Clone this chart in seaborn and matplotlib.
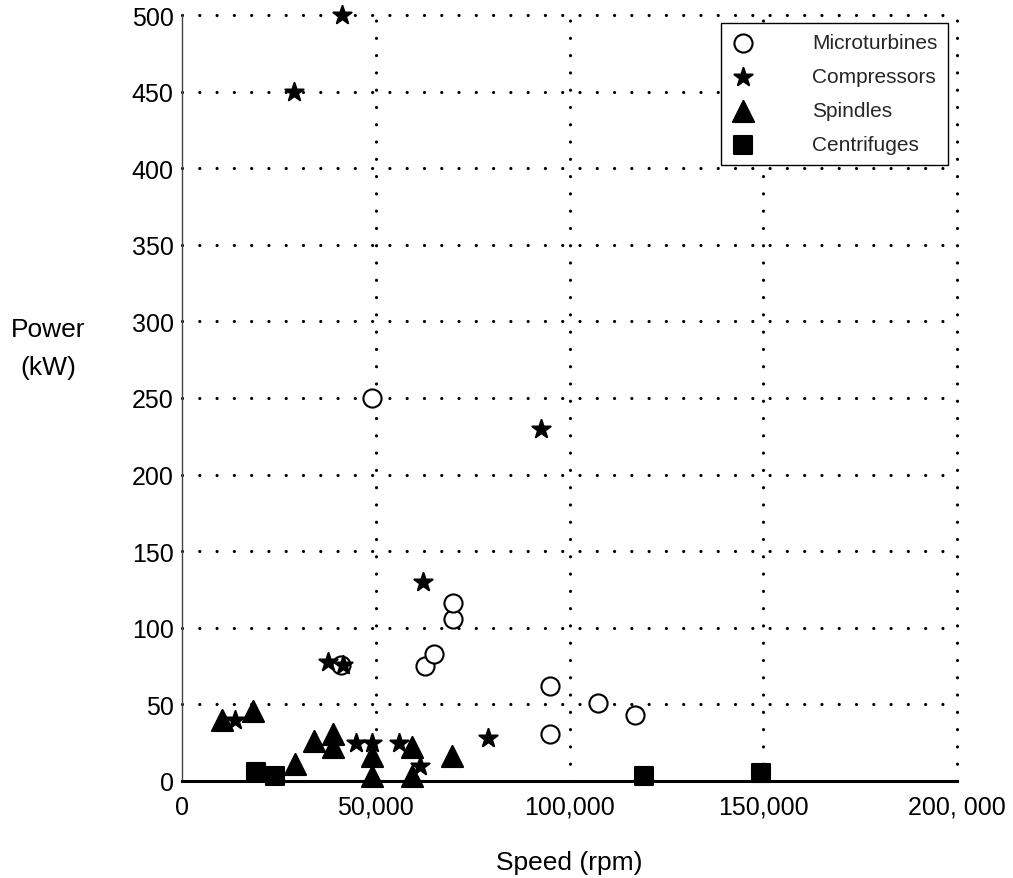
import matplotlib
matplotlib.use("Agg")
import matplotlib.pyplot as plt
import seaborn as sns
from matplotlib.ticker import FixedLocator

# Machine survey: shaft speed (rpm) vs rated power (kW)
micro_speed = [41000, 49000, 62700, 65000, 70000, 70000, 95000, 95000, 107300, 117000]
micro_power = [76, 250, 75, 83, 106, 116, 62, 31, 51, 43]

comp_speed = [13700, 28900, 37700, 41300, 41600, 44900, 49000, 56000, 61400, 62200, 79000, 92600]
comp_power = [40, 450, 78, 500, 76, 25, 25, 25, 10, 130, 28, 230]

spin_speed = [10300, 18300, 29200, 34000, 39000, 39000, 49000, 49000, 59400, 59400, 69700]
spin_power = [40, 46, 11, 26, 31, 22, 16, 3, 22, 3, 16]

cent_speed = [19100, 24000, 119300, 149400]
cent_power = [6, 3, 3, 5]

x_ticks = [0, 50000, 100000, 150000, 200000]
x_labels = ["0", "50,000", "100,000", "150,000", "200, 000"]
y_ticks = [0, 50, 100, 150, 200, 250, 300, 350, 400, 450, 500]

sns.set_theme(style="white")
plt.rcParams["font.family"] = ["Liberation Sans", "DejaVu Sans"]

fig = plt.figure(figsize=(10.13, 8.79), dpi=100)
ax = fig.add_axes([182 / 1013, 1 - 782 / 879, 775 / 1013, 766 / 879])

common = dict(ax=ax, clip_on=False, zorder=5, linewidth=1.5)
sns.scatterplot(x=micro_speed, y=micro_power, marker="o", s=170,
                facecolor="white", edgecolor="black", label="Microturbines", **common)
sns.scatterplot(x=comp_speed, y=comp_power, marker="*", s=190,
                color="black", edgecolor="black", label="Compressors", **common)
sns.scatterplot(x=spin_speed, y=spin_power, marker="^", s=230,
                color="black", edgecolor="black", label="Spindles", **common)
sns.scatterplot(x=cent_speed, y=cent_power, marker="s", s=150,
                color="black", edgecolor="black", label="Centrifuges", **common)

ax.set_xlim(0, 200000)
ax.set_ylim(0, 500)
ax.xaxis.set_major_locator(FixedLocator(x_ticks))
ax.set_xticklabels(x_labels)
ax.yaxis.set_major_locator(FixedLocator(y_ticks))
ax.set_yticklabels([str(v) for v in y_ticks])

# dotted grid with round dots
ax.grid(True, color="black", linewidth=2.3, linestyle=(0, (0.01, 5.4)),
        dash_capstyle="round")
ax.set_axisbelow(True)
for line in ax.get_xgridlines() + ax.get_ygridlines():
    line.set_clip_on(False)
    line.set_dash_capstyle("round")
ax.xaxis.get_major_ticks()[0].gridline.set_visible(False)
ax.yaxis.get_major_ticks()[0].gridline.set_visible(False)

for side in ("top", "right"):
    ax.spines[side].set_visible(False)
ax.spines["left"].set_color("#444444")
ax.spines["left"].set_linewidth(1.0)
ax.spines["bottom"].set_color("black")
ax.spines["bottom"].set_linewidth(2.2)

ax.tick_params(axis="both", direction="in", length=5, width=1.5, color="black",
               labelsize=18, labelcolor="black")
ax.tick_params(axis="x", pad=10)
ax.tick_params(axis="y", pad=6)

ax.set_xlabel("Speed (rpm)", fontsize=19, color="black")
ax.xaxis.set_label_coords(0.5, -0.09)
ax.set_ylabel("Power\n(kW)", fontsize=19, color="black", rotation=0,
              ha="center", va="center", linespacing=1.75)
ax.yaxis.set_label_coords(-0.173, 0.565)

leg = ax.legend(loc="upper right", bbox_to_anchor=(948 / 1013, 1 - 24 / 879),
                bbox_transform=fig.transFigure, fontsize=15, frameon=True,
                fancybox=False, edgecolor="black", framealpha=1,
                borderpad=0.5, labelspacing=0.72, handletextpad=2.7,
                borderaxespad=0, handlelength=1.2)
leg.get_frame().set_linewidth(1.0)
leg.set_zorder(10)

fig.savefig("out.png", dpi=100)
